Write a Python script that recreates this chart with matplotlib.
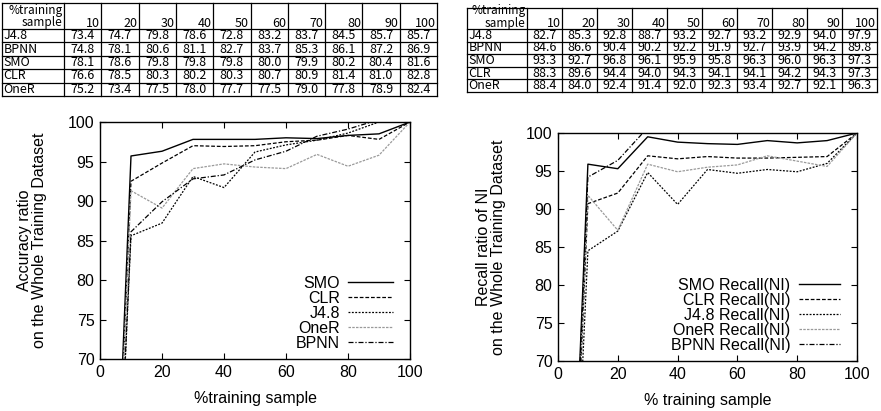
import matplotlib
matplotlib.use("Agg")
import matplotlib.pyplot as plt

# table data (accuracy %, recall of NI %)
train_pct = [10, 20, 30, 40, 50, 60, 70, 80, 90, 100]
algos = ["J4.8", "BPNN", "SMO", "CLR", "OneR"]
acc_table = [
    ["73.4", "74.7", "79.8", "78.6", "72.8", "83.2", "83.7", "84.5", "85.7", "85.7"],
    ["74.8", "78.1", "80.6", "81.1", "82.7", "83.7", "85.3", "86.1", "87.2", "86.9"],
    ["78.1", "78.6", "79.8", "79.8", "79.8", "80.0", "79.9", "80.2", "80.4", "81.6"],
    ["76.6", "78.5", "80.3", "80.2", "80.3", "80.7", "80.9", "81.4", "81.0", "82.8"],
    ["75.2", "73.4", "77.5", "78.0", "77.7", "77.5", "79.0", "77.8", "78.9", "82.4"],
]
rec_table = [
    ["82.7", "85.3", "92.8", "88.7", "93.2", "92.7", "93.2", "92.9", "94.0", "97.9"],
    ["84.6", "86.6", "90.4", "90.2", "92.2", "91.9", "92.7", "93.9", "94.2", "89.8"],
    ["93.3", "92.7", "96.8", "96.1", "95.9", "95.8", "96.3", "96.0", "96.3", "97.3"],
    ["88.3", "89.6", "94.4", "94.0", "94.3", "94.1", "94.1", "94.2", "94.3", "97.3"],
    ["88.4", "84.0", "92.4", "91.4", "92.0", "92.3", "93.4", "92.7", "92.1", "96.3"],
]

# curves (ratio to the whole training set)
x = [0, 10, 20, 30, 40, 50, 60, 70, 80, 90, 100]
acc_smo = [0, 95.7, 96.3, 97.8, 97.8, 97.8, 98.0, 97.9, 98.3, 98.5, 100]
acc_clr = [0, 92.5, 94.8, 97.0, 96.9, 97.0, 97.5, 97.7, 98.3, 97.8, 100]
acc_j48 = [0, 85.6, 87.2, 93.1, 91.7, 96.2, 97.1, 97.7, 98.6, 100.0, 100]
acc_oner = [0, 91.3, 89.1, 94.1, 94.7, 94.3, 94.1, 95.9, 94.4, 95.8, 100]
acc_bpnn = [0, 86.1, 89.9, 92.8, 93.3, 95.2, 96.3, 98.2, 99.1, 100.3, 100]

rec_smo = [0, 95.9, 95.3, 99.5, 98.8, 98.6, 98.5, 99.0, 98.7, 99.0, 100]
rec_clr = [0, 90.7, 92.1, 97.0, 96.6, 96.9, 96.7, 96.7, 96.8, 96.9, 100]
rec_j48 = [0, 84.5, 87.1, 94.8, 90.6, 95.2, 94.7, 95.2, 94.9, 96.0, 100]
rec_oner = [0, 91.8, 87.2, 95.9, 94.9, 95.5, 95.8, 97.0, 96.3, 95.6, 100]
rec_bpnn = [0, 94.2, 96.4, 100.7, 100.4, 102.7, 102.3, 103.2, 104.6, 104.9, 100]

W, H = 881, 411
fig = plt.figure(figsize=(W / 100, H / 100), dpi=100)
plt.rcParams["font.family"] = ["Liberation Sans", "DejaVu Sans"]

tfont = ["Noto Sans CJK JP", "DejaVu Sans"]


def draw_table(x0, y0, x1, y1, hdr_w, hdr_h, rows):
    ax = fig.add_axes([x0 / W, 1 - y1 / H, (x1 - x0) / W, (y1 - y0) / H])
    ax.set_xlim(x0, x1)
    ax.set_ylim(y1, y0)
    ax.axis("off")
    ncol = len(train_pct)
    cw = (x1 - x0 - hdr_w) / ncol
    rh = (y1 - y0 - hdr_h) / len(rows)
    xs = [x0] + [x0 + hdr_w + i * cw for i in range(ncol + 1)]
    ys = [y0] + [y0 + hdr_h + j * rh for j in range(len(rows) + 1)]
    for xv in xs:
        ax.plot([xv, xv], [y0, y1], color="black", lw=0.9, clip_on=False)
    for yv in ys:
        ax.plot([x0, x1], [yv, yv], color="black", lw=0.9, clip_on=False)
    ax.text(xs[1] - 1.5, ys[1] + 0.5, "%training\nsample", ha="right", va="bottom",
            multialignment="right", fontsize=8.5, family=tfont, linespacing=0.95)
    for i, p in enumerate(train_pct):
        ax.text(xs[i + 2] - 1.5, ys[1] + 1, str(p), ha="right", va="bottom",
                fontsize=9, family=tfont)
    for j, (name, vals) in enumerate(zip(algos, rows)):
        yc = (ys[j + 1] + ys[j + 2]) / 2
        ax.text(x0 + 1.5, yc, name, ha="left", va="center", fontsize=9, family=tfont)
        for i, v in enumerate(vals):
            ax.text((xs[i + 1] + xs[i + 2]) / 2, yc, v, ha="center", va="center",
                    fontsize=9, family=tfont)


draw_table(2, 3, 437, 96, 62, 26, acc_table)
draw_table(467, 8, 877, 92, 60, 21, rec_table)


def draw_plot(box, series, labels, ylabel, xlabel, hlen, ylpad, anchor):
    x0, y0, x1, y1 = box
    ax = fig.add_axes([x0 / W, 1 - y1 / H, (x1 - x0) / W, (y1 - y0) / H])
    styles = [
        dict(color="black", ls="-", lw=1.0),
        dict(color="black", ls=(0, (3, 1.5)), lw=0.9),
        dict(color="black", ls=(0, (1.5, 1.2)), lw=0.9),
        dict(color="#9a9a9a", ls=(0, (2, 1)), lw=0.9),
        dict(color="black", ls=(0, (4, 1.5, 1, 1.5)), lw=0.9),
    ]
    for ys, lab, st in zip(series, labels, styles):
        ax.plot(x, ys, label=lab, **st)
    ax.set_xlim(0, 100)
    ax.set_ylim(70, 100)
    ax.set_xticks(range(0, 101, 20))
    ax.set_yticks(range(70, 101, 5))
    ax.tick_params(direction="in", top=True, right=True, length=4, width=0.8,
                   labelsize=11.5, pad=4)
    for s in ax.spines.values():
        s.set_linewidth(1.0)
    ax.set_ylabel(ylabel, fontsize=11.5, linespacing=1.0, labelpad=ylpad)
    ax.set_xlabel(xlabel, fontsize=11.5, labelpad=8)
    ax.legend(loc="lower right", frameon=False, markerfirst=False, fontsize=11.5,
              handlelength=hlen, labelspacing=0.0, handletextpad=0.5,
              borderaxespad=0.1, bbox_to_anchor=anchor)
    return ax


draw_plot((100, 122, 410, 359),
          [acc_smo, acc_clr, acc_j48, acc_oner, acc_bpnn],
          ["SMO", "CLR", "J4.8", "OneR", "BPNN"],
          "Accuracy ratio\non the Whole Training Dataset", "%training sample",
          2.8, 15, (0.97, 0.0))
draw_plot((558, 133, 857, 361),
          [rec_smo, rec_clr, rec_j48, rec_oner, rec_bpnn],
          ["SMO Recall(NI)", "CLR Recall(NI)", "J4.8 Recall(NI)",
           "OneR Recall(NI)", "BPNN Recall(NI)"],
          "Recall ratio of NI\non the Whole Training Dataset", "% training sample",
          2.6, 14, (0.97, 0.0))

fig.savefig("out.png", dpi=100)
